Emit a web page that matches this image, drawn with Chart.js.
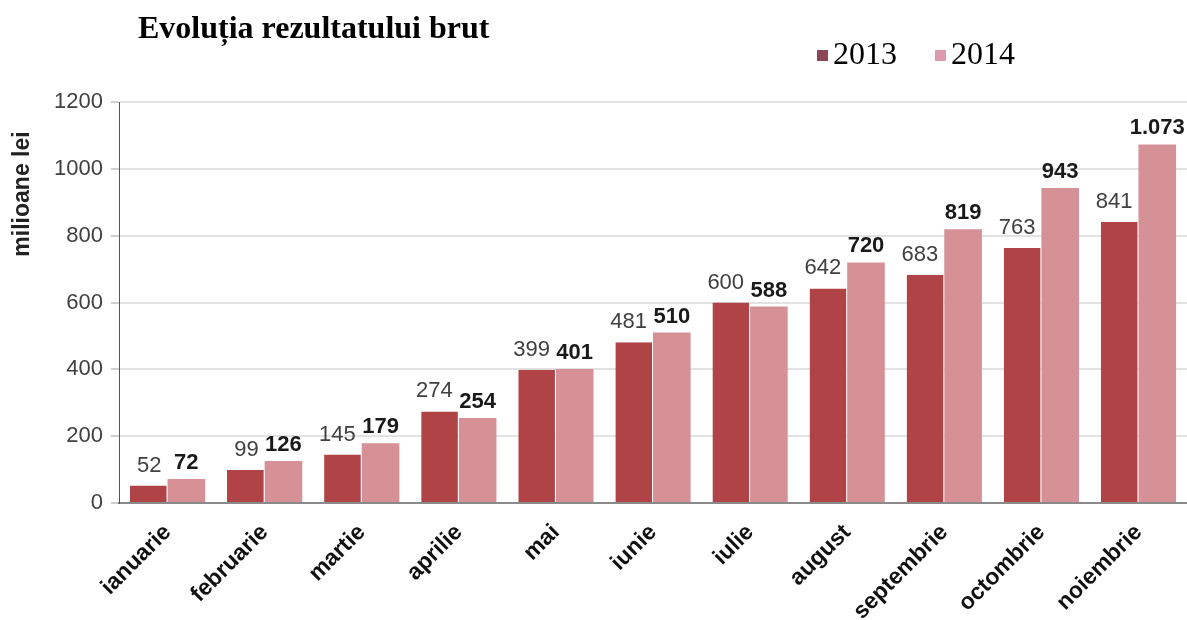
<!DOCTYPE html>
<html>
<head>
<meta charset="utf-8">
<script src="https://cdn.jsdelivr.net/npm/chart.js@4.4.1/dist/chart.umd.min.js"></script>
<style>
    html, body { margin: 0; padding: 0; background: #ffffff; }
    #wrap { width: 1187px; height: 620px; }
</style>
</head>
<body>
<div id="wrap"><canvas id="rezultatChart" width="1187" height="620"></canvas></div>
<script>
// date
const luni = ['ianuarie', 'februarie', 'martie', 'aprilie', 'mai', 'iunie', 'iulie', 'august', 'septembrie', 'octombrie', 'noiembrie'];
const valori2013 = [52, 99, 145, 274, 399, 481, 600, 642, 683, 763, 841];
const valori2014 = [72, 126, 179, 254, 401, 510, 588, 720, 819, 943, 1073];
const ticksY = [0, 200, 400, 600, 800, 1000, 1200];

const culori = {
    bara2013: '#b04346',
    bara2014: '#d69197',
    leg2013: '#8c4656',
    leg2014: '#e09aad'
};

// 1073 -> "1.073"
function formatRo(v) {
    return String(v).replace(/\B(?=(\d{3})+(?!\d))/g, '.');
}

// etichetele de deasupra barelor
const eticheteBare = {
    id: 'eticheteBare',
    afterDatasetsDraw(chart) {
        const ctx = chart.ctx;
        ctx.save();
        ctx.textBaseline = 'alphabetic';
        chart.data.datasets.forEach(function(ds, i) {
            const meta = chart.getDatasetMeta(i);
            ctx.font = (i === 1 ? 'bold ' : '') + '22px "Liberation Sans", Arial, sans-serif';
            ctx.fillStyle = i === 1 ? '#1a1a1a' : '#404040';
            meta.data.forEach(function(el, j) {
                const text = formatRo(ds.data[j]);
                if (i === 0) {
                    // 2013: aliniat la dreapta, putin spre stanga
                    ctx.textAlign = 'right';
                    ctx.fillText(text, el.x + el.width / 2 - 6, el.y - 14);
                } else {
                    ctx.textAlign = 'center';
                    ctx.fillText(text, el.x, el.y - 10);
                }
            });
        });
        ctx.restore();
    }
};

// titlu, legenda si titlul axei Y
const texte = {
    id: 'texte',
    afterDraw(chart) {
        const ctx = chart.ctx;
        ctx.save();
        ctx.fillStyle = '#000000';
        ctx.textBaseline = 'middle';
        ctx.textAlign = 'left';
        ctx.font = 'bold 32px "Liberation Serif", "Times New Roman", serif';
        ctx.fillText('Evoluția rezultatului brut', 138, 30);

        ctx.font = '32px "Liberation Serif", "Times New Roman", serif';
        ctx.fillStyle = culori.leg2013;
        ctx.fillRect(817, 50, 11, 11);
        ctx.fillStyle = '#000000';
        ctx.fillText('2013', 833, 56);
        ctx.fillStyle = culori.leg2014;
        ctx.fillRect(935, 50, 11, 11);
        ctx.fillStyle = '#000000';
        ctx.fillText('2014', 951, 56);

        ctx.translate(23, 194);
        ctx.rotate(-Math.PI / 2);
        ctx.textAlign = 'center';
        ctx.fillStyle = '#222222';
        ctx.font = 'bold 23px "Liberation Sans", Arial, sans-serif';
        ctx.fillText('milioane lei', 0, 0);
        ctx.restore();
    }
};

const ctx = document.getElementById('rezultatChart').getContext('2d');
const rezultatChart = new Chart(ctx, {
    type: 'bar',
    data: {
        labels: luni,
        datasets: [{
            label: '2013',
            data: valori2013,
            backgroundColor: culori.bara2013,
            borderColor: '#ffffff',
            borderWidth: { right: 1 },
            borderSkipped: false
        }, {
            label: '2014',
            data: valori2014,
            backgroundColor: culori.bara2014,
            borderWidth: 0
        }]
    },
    options: {
        responsive: false,
        animation: false,
        layout: {
            padding: { top: 102, right: 0, left: 0, bottom: 0 }
        },
        plugins: {
            legend: { display: false },
            title: { display: false },
            tooltip: { enabled: false }
        },
        datasets: {
            bar: { categoryPercentage: 0.775, barPercentage: 1.0 }
        },
        scales: {
            x: {
                grid: { display: false },
                border: { display: true, color: '#8a8a8a', width: 2 },
                ticks: {
                    color: '#111111',
                    font: { family: '"Liberation Sans", Arial, sans-serif', size: 23, weight: 'bold' },
                    maxRotation: 45,
                    minRotation: 45,
                    padding: 8
                },
                afterFit: function(scale) { scale.height = 117; }
            },
            y: {
                min: 0,
                max: 1200,
                afterBuildTicks: function(scale) {
                    scale.ticks = ticksY.map(v => ({ value: v }));
                },
                grid: { color: '#e2e2e2', lineWidth: 2, tickLength: 8, tickColor: '#cfcfcf' },
                border: { display: true, color: '#555555', width: 1 },
                ticks: {
                    color: '#404040',
                    font: { family: '"Liberation Sans", Arial, sans-serif', size: 22 },
                    padding: 8,
                    callback: function(v) { return String(v); }
                },
                afterFit: function(scale) { scale.width = 119; }
            }
        }
    },
    plugins: [eticheteBare, texte]
});
</script>
</body>
</html>
